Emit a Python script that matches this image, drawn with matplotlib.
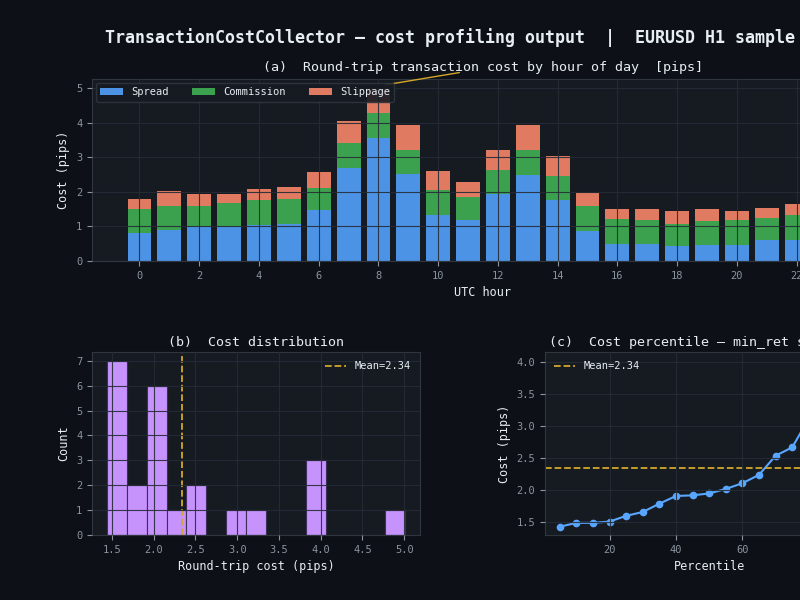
import matplotlib
matplotlib.use('Agg')
import matplotlib.pyplot as plt
import numpy as np

# ── data ──────────────────────────────────────────────────────
hours = np.arange(24)
spread = [0.81, 0.90, 0.97, 0.97, 1.03, 1.08, 1.48, 2.70, 3.57, 2.52, 1.32, 1.19,
          1.94, 2.48, 1.76, 0.88, 0.50, 0.50, 0.42, 0.45, 0.45, 0.60, 0.60, 0.62]
commission = [0.69, 0.70, 0.63, 0.71, 0.72, 0.70, 0.64, 0.70, 0.70, 0.69, 0.73, 0.66,
              0.68, 0.74, 0.69, 0.70, 0.72, 0.68, 0.65, 0.70, 0.73, 0.64, 0.72, 0.68]
slippage = [0.29, 0.41, 0.33, 0.26, 0.32, 0.36, 0.44, 0.64, 0.74, 0.71, 0.54, 0.43,
            0.60, 0.70, 0.58, 0.39, 0.28, 0.32, 0.37, 0.35, 0.26, 0.30, 0.32, 0.50]
mean_cost = 2.34

pct_levels = [5, 10, 15, 20, 25, 30, 35, 40, 45, 50, 55, 60, 65, 70, 75, 80, 85, 90, 95]
pct_values = [1.43, 1.49, 1.49, 1.51, 1.60, 1.66, 1.79, 1.91, 1.92, 1.95, 2.02, 2.11,
              2.24, 2.54, 2.67, 3.12, 3.55, 3.92, 4.03]

# ── style ─────────────────────────────────────────────────────
BG = '#0d1117'
PANEL = '#161b22'
GRID = '#30363d'
TXT = '#e6edf3'
TICK = '#8b949e'
COL_SPREAD = '#4c93e6'
COL_COMM = '#3ba14e'
COL_SLIP = '#e07b62'
COL_HIST = '#c692fc'
COL_MEAN = '#d4a72c'
COL_LINE = '#58a6ff'

plt.rcParams.update({
    'font.family': ['DejaVu Sans Mono', 'DejaVu Sans'],
    'figure.facecolor': BG,
    'axes.facecolor': PANEL,
    'axes.edgecolor': GRID,
    'axes.labelcolor': TXT,
    'axes.titlecolor': TXT,
    'axes.axisbelow': False,
    'xtick.color': TICK,
    'ytick.color': TICK,
    'xtick.labelsize': 7.5,
    'ytick.labelsize': 7.5,
    'axes.labelsize': 8.5,
    'axes.titlesize': 9.6,
    'grid.color': '#262c36',
    'grid.alpha': 0.9,
    'grid.linewidth': 0.8,
    'legend.facecolor': PANEL,
    'legend.edgecolor': GRID,
    'legend.labelcolor': TXT,
})

fig = plt.figure(figsize=(8, 6), dpi=100)
fig.suptitle('TransactionCostCollector — cost profiling output  |  EURUSD H1 sample',
             x=0.5625, y=0.937, fontsize=12, fontweight='bold', color=TXT, va='center')

# ── (a) stacked bars by hour ──────────────────────────────────
ax = fig.add_axes([0.115, 0.565, 0.9775, 0.3033])
sp = np.array(spread)
cm = np.array(commission)
sl = np.array(slippage)
ax.bar(hours, sp, 0.8, color=COL_SPREAD, label='Spread')
ax.bar(hours, cm, 0.8, bottom=sp, color=COL_COMM, label='Commission')
ax.bar(hours, sl, 0.8, bottom=sp + cm, color=COL_SLIP, label='Slippage')
ax.set_xticks(np.arange(0, 24, 2))
ax.set_xlabel('UTC hour')
ax.set_ylabel('Cost (pips)')
ax.set_title('(a)  Round-trip transaction cost by hour of day  [pips]', pad=6)
ax.grid(True)
ax.legend(loc='upper left', ncol=3, fontsize=7.5, framealpha=0.9,
          borderaxespad=0.4, columnspacing=2.2, handlelength=2.2)
tot = sp + cm + sl
pk = int(np.argmax(tot))
ax.annotate('', xy=(pk + 0.15, tot[pk] + 0.07), xytext=(pk + 2.8, tot[pk] + 0.45),
            arrowprops=dict(arrowstyle='-', color=COL_MEAN, lw=1.0),
            annotation_clip=False)

# ── (b) distribution ──────────────────────────────────────────
ax = fig.add_axes([0.115, 0.1083, 0.41, 0.305])
ax.hist(tot, bins=15, color=COL_HIST, edgecolor='#3d2f5a', linewidth=0.8)
ax.axvline(mean_cost, color=COL_MEAN, ls='--', lw=1.3, label=f'Mean={mean_cost:.2f}')
ax.set_xlabel('Round-trip cost (pips)')
ax.set_ylabel('Count')
ax.set_title('(b)  Cost distribution', pad=4)
ax.grid(True)
ax.legend(loc='upper right', fontsize=7.5, frameon=False)

# ── (c) percentile curve ──────────────────────────────────────
ax = fig.add_axes([0.681, 0.1083, 0.411, 0.305])
ax.plot(pct_levels, pct_values, '-o', color=COL_LINE, lw=1.5, ms=4.5)
ax.axhline(mean_cost, color=COL_MEAN, ls='--', lw=1.3, label=f'Mean={mean_cost:.2f}')
ax.set_xticks([20, 40, 60, 80])
ax.set_xlabel('Percentile')
ax.set_ylabel('Cost (pips)')
ax.set_title('(c)  Cost percentile — min_ret selection', pad=4)
ax.grid(True)
ax.legend(loc='upper left', fontsize=7.5, frameon=False)

fig.savefig('out.png', dpi=100, facecolor=BG)
